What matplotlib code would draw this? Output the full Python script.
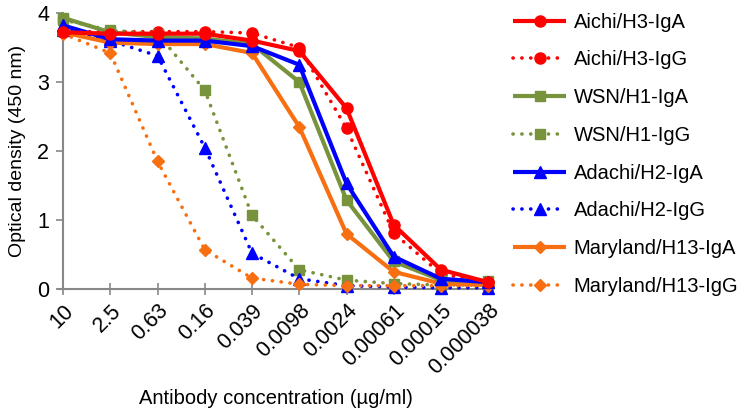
import numpy as np
import matplotlib.pyplot as plt

plt.rcParams['font.family'] = ['Liberation Sans', 'DejaVu Sans']

conc = ['10', '2.5', '0.63', '0.16', '0.039', '0.0098', '0.0024',
        '0.00061', '0.00015', '0.000038']

aichi_iga = [3.72, 3.70, 3.70, 3.70, 3.60, 3.45, 2.62, 0.93, 0.28, 0.10]
aichi_igg = [3.73, 3.73, 3.73, 3.73, 3.71, 3.50, 2.33, 0.81, 0.22, 0.10]
wsn_iga = [3.93, 3.72, 3.65, 3.63, 3.55, 3.00, 1.29, 0.40, 0.13, 0.12]
wsn_igg = [3.90, 3.75, 3.70, 2.88, 1.07, 0.28, 0.13, 0.08, 0.06, 0.06]
adachi_iga = [3.82, 3.62, 3.60, 3.60, 3.52, 3.25, 1.53, 0.47, 0.15, 0.10]
adachi_igg = [3.75, 3.60, 3.38, 2.05, 0.52, 0.15, 0.05, 0.03, 0.02, 0.02]
maryland_iga = [3.72, 3.57, 3.55, 3.55, 3.42, 2.35, 0.80, 0.25, 0.08, 0.06]
maryland_igg = [3.70, 3.42, 1.85, 0.57, 0.16, 0.07, 0.05, 0.05, 0.05, 0.05]

red = '#FF0000'
green = '#77933C'
blue = '#0000FF'
orange = '#F86F12'
dots = (0, (0.05, 2.4))

series = [
    ('Aichi/H3-IgA', aichi_iga, red, 'o', '-'),
    ('Aichi/H3-IgG', aichi_igg, red, 'o', dots),
    ('WSN/H1-IgA', wsn_iga, green, 's', '-'),
    ('WSN/H1-IgG', wsn_igg, green, 's', dots),
    ('Adachi/H2-IgA', adachi_iga, blue, '^', '-'),
    ('Adachi/H2-IgG', adachi_igg, blue, '^', dots),
    ('Maryland/H13-IgA', maryland_iga, orange, 'D', '-'),
    ('Maryland/H13-IgG', maryland_igg, orange, 'D', dots),
]
msizes = {'o': 8, 's': 7.5, '^': 8, 'D': 6.5}

fig = plt.figure(figsize=(7.46, 4.19), dpi=100)
ax = fig.add_axes([0.0845, 0.31, 0.57, 0.659])

x = np.arange(len(conc))
# dotted series go under the solid ones
order = [1, 3, 5, 7, 6, 2, 4, 0]
handles = {}
for i in order:
    label, vals, col, mk, ls = series[i]
    lw = 3 if ls == '-' else 2.6
    h, = ax.plot(x, vals, color=col, marker=mk, linestyle=ls, linewidth=lw,
                 markersize=msizes[mk], label=label, clip_on=False,
                 dash_capstyle='round', solid_capstyle='butt', zorder=3)
    handles[i] = h

ax.set_xlim(0, 9)
ax.set_ylim(0, 4)
ax.set_yticks([0, 1, 2, 3, 4])
ax.set_xticks(x)
ax.set_xticklabels(conc, rotation=45, ha='right', rotation_mode='anchor')
ax.tick_params(axis='both', labelsize=15.5, color='#888888', width=1.2)
ax.tick_params(axis='x', direction='inout', length=8, pad=4)
ax.tick_params(axis='y', direction='out', length=5, pad=5)
for s in ['top', 'right']:
    ax.spines[s].set_visible(False)
for s in ['left', 'bottom']:
    ax.spines[s].set_color('#888888')
    ax.spines[s].set_linewidth(1.5)
ax.spines['bottom'].set_bounds(-0.1, 9)

ax.set_xlabel('Antibody concentration (µg/ml)', fontsize=14.5, labelpad=7)
ax.set_ylabel('Optical density (450 nm)', fontsize=14, labelpad=8)

leg = ax.legend([handles[i] for i in range(8)], [s[0] for s in series],
                loc='upper left', bbox_to_anchor=(1.04, 1.03), frameon=False,
                fontsize=14.5, handlelength=2.6, handletextpad=0.4,
                labelspacing=0.93, borderaxespad=0)

fig.savefig('out.png', dpi=100)
